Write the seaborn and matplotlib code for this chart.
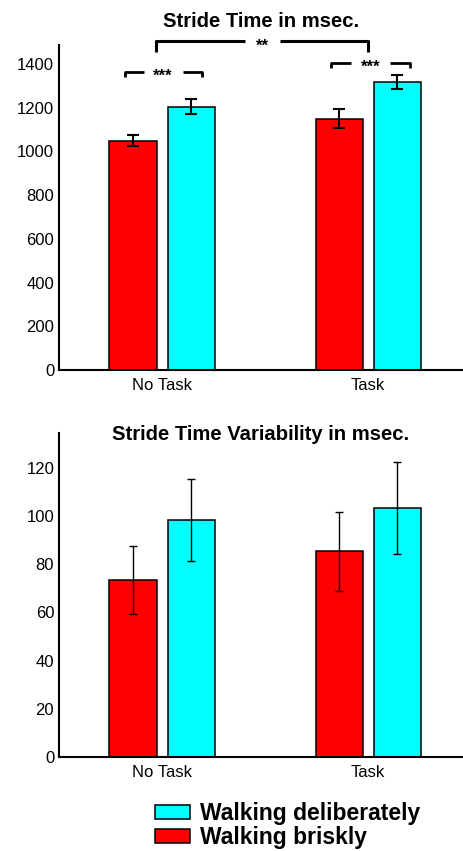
"""
Stride time / stride time variability bar charts (walking briskly vs deliberately)
"""

import pandas as pd
import matplotlib
matplotlib.use("Agg")
import matplotlib.pyplot as plt
from matplotlib.patches import Patch
import seaborn as sns

# ─────────────────────────────────────────────────────────────────
# DATA
# ─────────────────────────────────────────────────────────────────
conditions = ["No Task", "Task"]
groups = ["Walking briskly", "Walking deliberately"]

stride_brisk = [1050, 1150]
stride_delib = [1205, 1318]
stride_brisk_err = [25, 44]
stride_delib_err = [35, 32]

var_brisk = [73.5, 85.3]
var_delib = [98.5, 103.3]
var_brisk_err = [14, 16.3]
var_delib_err = [17, 19]

COLORS = {"Walking briskly": "#ff0000", "Walking deliberately": "#00ffff"}

# ─────────────────────────────────────────────────────────────────
# STYLE
# ─────────────────────────────────────────────────────────────────
sns.set_theme(style="white")
plt.rcParams["font.family"] = ["Liberation Sans", "DejaVu Sans"]
plt.rcParams["text.color"] = "black"

W, H, DPI = 463, 851, 100
fig = plt.figure(figsize=(W / DPI, H / DPI), dpi=DPI)


def long_df(brisk, delib):
    return pd.DataFrame({
        "condition": conditions * 2,
        "group": [groups[0]] * 2 + [groups[1]] * 2,
        "value": list(brisk) + list(delib),
    })


def draw_panel(ax, brisk, delib, brisk_err, delib_err, ymax, yticks, err_lw, cap):
    df = long_df(brisk, delib)
    sns.barplot(data=df, x="condition", y="value", hue="group",
                hue_order=groups, order=conditions, palette=COLORS,
                saturation=1, width=0.564, gap=0.19, errorbar=None,
                edgecolor="black", linewidth=1.1, legend=False, ax=ax)
    for cont, errs in zip(ax.containers, [brisk_err, delib_err]):
        xs = [b.get_x() + b.get_width() / 2 for b in cont]
        ys = [b.get_height() for b in cont]
        ax.errorbar(xs, ys, yerr=errs, fmt="none", ecolor="black",
                    elinewidth=err_lw, capsize=cap, capthick=err_lw, zorder=5)
    ax.set_xlim(-0.5, 1.46)
    ax.set_ylim(0, ymax)
    ax.set_yticks(yticks)
    ax.set_xlabel("")
    ax.set_ylabel("")
    sns.despine(ax=ax)
    for s in ("left", "bottom"):
        ax.spines[s].set_color("black")
        ax.spines[s].set_linewidth(1.5)
    ax.tick_params(axis="both", length=0, labelsize=12, colors="black")
    ax.tick_params(axis="y", pad=3.5)
    ax.tick_params(axis="x", pad=6)


def bracket(ax, x0, x1, y, drop, label, gap, lw):
    xm = (x0 + x1) / 2
    kw = dict(color="black", lw=lw, clip_on=False, solid_capstyle="butt")
    ax.plot([x0, x0, xm - gap], [y - drop, y, y], **kw)
    ax.plot([xm + gap, x1, x1], [y, y, y - drop], **kw)
    # asterisks sit high in the em box, so nudge them down onto the line
    ax.annotate(label, (xm, y), xytext=(0, -3.5), textcoords="offset points",
                ha="center", va="center", fontsize=12, fontweight="bold",
                color="black", annotation_clip=False)


# ─────────────────────────────────────────────────────────────────
# 1. STRIDE TIME
# ─────────────────────────────────────────────────────────────────
ax1 = fig.add_axes([59 / W, 1 - 370 / H, 1 - 59 / W, (370 - 45) / H])
draw_panel(ax1, stride_brisk, stride_delib, stride_brisk_err, stride_delib_err,
           1487, range(0, 1401, 200), 1.5, 4)
ax1.set_title("Stride Time in msec.", fontsize=14.6, fontweight="bold",
              pad=13, color="black")

bracket(ax1, -0.03, 1.0, 1505, 50, "**", 0.085, 2.2)
bracket(ax1, -0.182, 0.192, 1365, 23, "***", 0.095, 2.0)
bracket(ax1, 1 - 0.178, 1.204, 1406, 25, "***", 0.095, 2.0)

# ─────────────────────────────────────────────────────────────────
# 2. STRIDE TIME VARIABILITY
# ─────────────────────────────────────────────────────────────────
ax2 = fig.add_axes([59 / W, 1 - 757 / H, 1 - 59 / W, (757 - 433) / H])
draw_panel(ax2, var_brisk, var_delib, var_brisk_err, var_delib_err,
           134.4, range(0, 121, 20), 1.0, 3)
ax2.set_title("Stride Time Variability in msec.", fontsize=14.6,
              fontweight="bold", y=0.978, pad=0, color="black")

# ─────────────────────────────────────────────────────────────────
# LEGEND
# ─────────────────────────────────────────────────────────────────
handles = [Patch(facecolor=COLORS[g], edgecolor="black", linewidth=1.1, label=g)
           for g in reversed(groups)]
leg = fig.legend(handles=handles, loc="upper left",
                 bbox_to_anchor=(155 / W, 1 - 802 / H), frameon=False,
                 prop={"size": 16.5, "weight": "bold"}, borderpad=0,
                 borderaxespad=0, handlelength=1.53, handleheight=0.52,
                 handletextpad=0.44, labelspacing=0.05)
for t in leg.get_texts():
    t.set_color("black")

fig.savefig("out.png", dpi=DPI)
